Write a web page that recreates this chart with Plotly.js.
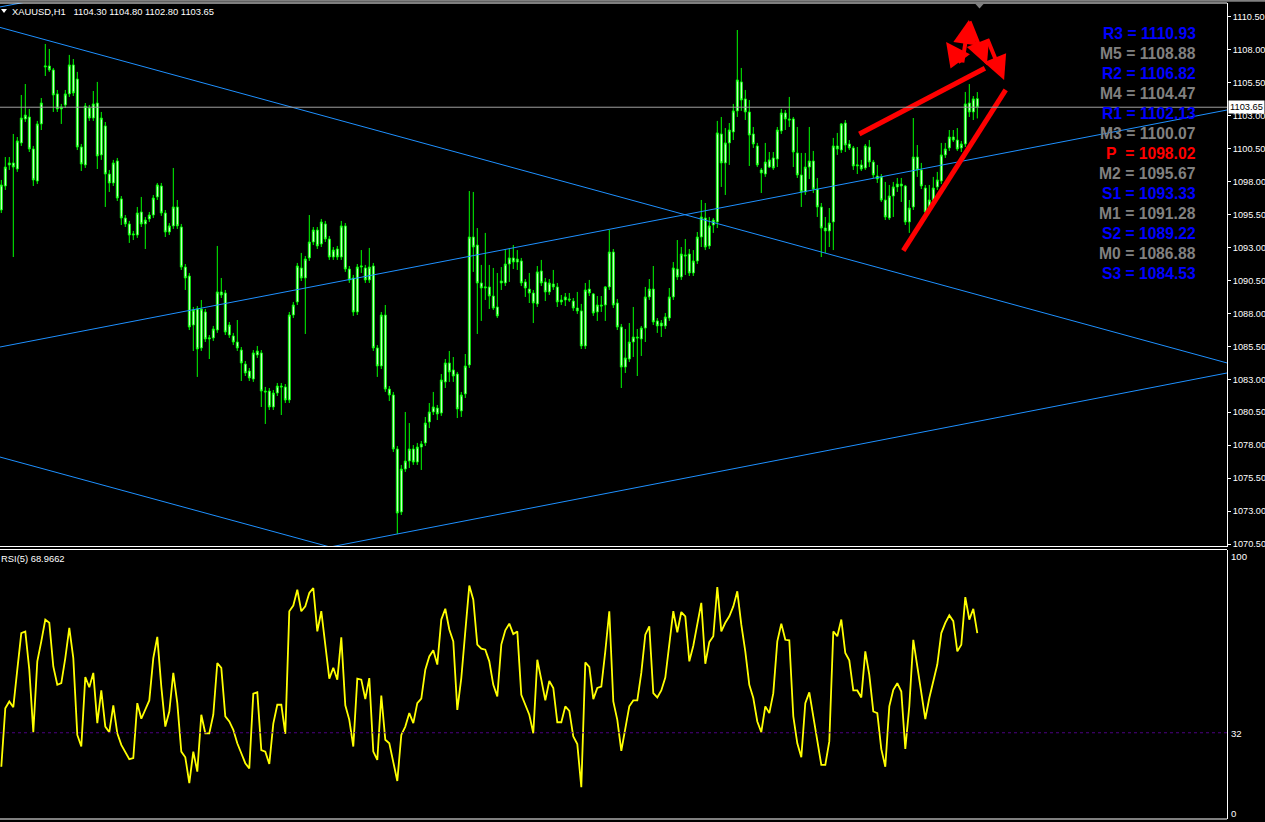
<!DOCTYPE html>
<html><head><meta charset="utf-8">
<script src="https://cdn.plot.ly/plotly-3.0.1.min.js"></script>
<style>html,body{margin:0;padding:0;background:#000;overflow:hidden}#chart{width:1265px;height:822px}</style>
</head><body><div id="chart"></div>
<script>
// ---------- DATA ----------
const symbolTitle = 'XAUUSD,H1';
const lastBar = {open:1104.30, high:1104.80, low:1102.80, close:1103.65};
const rsiTitle = 'RSI(5)';
const rsiLast = 68.9662;
const rsiLevel = 32;

const open = [
1095.85,1097.67,1099.27,1099.42,1098.96,1100.94,1102.76,1102.91,1100.48,1098.05,
1102.38,1106.70,1106.78,1106.48,1104.66,1103.52,1103.82,1104.66,1106.86,1105.79,
1100.63,1099.27,1103.59,1102.83,1103.97,1100.03,1102.23,1098.58,1097.90,1099.57,
1096.69,1095.24,1094.79,1093.95,1093.95,1095.70,1094.79,1095.17,1095.47,1096.84,
1097.67,1095.62,1094.18,1094.64,1096.08,1094.56,1091.52,1090.84,1087.12,1088.34,
1085.38,1088.11,1086.06,1086.14,1086.74,1089.63,1089.55,1086.36,1086.29,1085.83,
1085.22,1084.16,1083.63,1083.02,1084.85,1085.00,1082.11,1082.11,1080.90,1081.96,
1082.49,1082.42,1081.43,1087.88,1088.87,1091.45,1090.69,1092.21,1093.42,1094.33,
1093.27,1094.79,1093.65,1092.28,1092.89,1092.28,1094.64,1091.37,1090.69,1088.11,
1091.52,1091.45,1090.54,1091.60,1085.38,1084.01,1087.88,1082.26,1081.81,1077.71,
1072.93,1076.19,1076.80,1077.71,1076.72,1077.86,1078.17,1079.76,1080.52,1080.82,
1080.44,1082.80,1084.24,1083.71,1083.40,1080.60,1081.89,1084.09,1093.80,1093.19,
1090.31,1089.93,1090.01,1089.32,1088.49,1090.31,1090.31,1091.75,1092.21,1091.90,
1091.98,1090.39,1089.85,1089.55,1088.72,1091.22,1090.39,1089.63,1090.23,1090.01,
1088.87,1089.02,1089.10,1088.94,1088.41,1088.19,1085.53,1089.85,1089.48,1088.11,
1088.64,1088.64,1090.01,1092.66,1088.79,1086.97,1083.93,1084.54,1085.83,1086.21,
1086.06,1086.89,1089.25,1089.85,1087.43,1087.05,1087.05,1087.65,1089.25,1091.37,
1090.77,1092.44,1092.51,1091.07,1091.98,1093.80,1095.24,1093.12,1094.71,1094.94,
1101.62,1099.42,1100.94,1101.77,1103.37,1105.57,1104.28,1103.29,1101.62,1100.71,
1098.89,1098.58,1099.11,1099.80,1099.72,1101.85,1103.21,1102.76,1102.76,1100.18,
1098.51,1097.22,1099.11,1099.57,1097.44,1096.08,1094.48,1094.26,1094.94,1100.71,
1100.40,1102.45,1100.86,1100.56,1099.19,1099.27,1099.04,1100.63,1099.49,1098.43,
1098.36,1096.61,1095.24,1096.91,1097.60,1097.82,1097.67,1094.94,1096.08,1099.87,
1098.89,1097.52,1095.85,1096.61,1097.60,1098.05,1100.03,1100.56,1101.39,1101.16,
1100.56,1100.86,1103.97,1103.29,1104.30];

const high = [
1098.13,1099.87,1099.87,1101.62,1101.39,1104.58,1105.41,1103.52,1100.71,1102.61,
1104.35,1108.45,1108.07,1106.63,1104.96,1103.90,1104.96,1107.62,1107.31,1106.33,
1100.86,1103.97,1103.82,1104.88,1105.57,1103.29,1102.53,1098.89,1099.65,1099.80,
1096.91,1095.47,1095.02,1094.26,1096.08,1096.84,1095.32,1095.70,1096.99,1097.90,
1097.90,1095.85,1094.86,1099.04,1096.61,1094.79,1091.75,1091.07,1088.49,1088.56,
1089.02,1088.34,1086.36,1087.05,1093.12,1090.69,1089.78,1087.35,1086.52,1087.50,
1085.45,1084.39,1083.86,1085.22,1085.53,1085.22,1082.42,1082.34,1082.19,1082.72,
1082.72,1082.64,1088.11,1088.87,1091.83,1092.59,1092.36,1095.47,1094.56,1094.56,
1095.17,1095.02,1093.88,1093.04,1093.12,1095.02,1094.86,1091.60,1090.92,1091.75,
1092.81,1091.68,1092.97,1091.83,1085.60,1088.11,1088.64,1082.49,1082.04,1077.94,
1076.50,1080.52,1079.68,1078.01,1078.17,1078.32,1080.14,1081.20,1082.04,1081.05,
1083.40,1084.54,1085.15,1084.69,1083.56,1082.04,1084.92,1097.29,1097.22,1094.48,
1091.68,1094.11,1091.68,1091.45,1091.07,1091.52,1092.89,1092.97,1093.19,1092.81,
1092.21,1090.61,1091.07,1089.78,1091.60,1092.06,1090.69,1090.61,1091.30,1090.31,
1089.40,1089.55,1089.55,1089.17,1089.63,1088.72,1090.31,1090.54,1089.55,1089.32,
1089.32,1090.08,1094.33,1092.89,1089.10,1087.20,1086.82,1087.27,1088.49,1086.82,
1087.05,1090.01,1090.61,1091.60,1087.65,1087.50,1088.03,1089.93,1091.90,1093.57,
1093.04,1093.65,1092.89,1092.81,1094.18,1096.61,1096.38,1095.32,1095.24,1102.61,
1102.91,1102.07,1102.45,1103.90,1109.51,1106.63,1104.96,1104.20,1102.15,1100.94,
1099.04,1100.94,1100.25,1100.25,1102.15,1103.52,1103.44,1104.43,1102.91,1102.15,
1100.18,1100.18,1102.15,1100.33,1098.28,1096.38,1095.32,1096.00,1101.32,1101.70,
1102.45,1102.68,1101.16,1100.71,1100.63,1099.65,1100.86,1101.16,1099.65,1099.27,
1098.58,1097.98,1097.75,1097.98,1098.28,1098.28,1097.75,1096.61,1102.83,1100.78,
1099.42,1097.75,1097.75,1098.36,1098.74,1100.94,1100.94,1101.92,1101.92,1102.07,
1101.09,1104.81,1105.41,1104.50,1104.80];

const low = [
1095.62,1097.37,1098.89,1092.28,1098.74,1100.71,1102.53,1100.25,1097.67,1097.82,
1101.92,1106.02,1106.33,1103.29,1103.29,1102.38,1103.59,1104.43,1104.50,1100.40,
1098.81,1099.04,1102.61,1102.61,1098.96,1099.65,1096.08,1097.22,1097.67,1096.53,
1094.71,1094.56,1093.35,1093.57,1093.73,1094.56,1092.89,1094.94,1095.24,1096.61,
1095.40,1093.80,1093.95,1094.41,1094.41,1091.30,1089.78,1086.74,1085.15,1083.18,
1085.15,1085.83,1084.54,1085.91,1086.52,1089.17,1086.36,1086.14,1085.60,1085.15,
1082.87,1083.25,1082.87,1082.80,1084.62,1080.90,1079.61,1080.67,1080.67,1081.73,
1080.29,1081.20,1081.20,1087.65,1088.64,1090.46,1086.44,1091.98,1093.19,1092.89,
1093.04,1093.42,1092.06,1092.06,1092.06,1092.06,1091.15,1090.31,1087.81,1087.88,
1091.07,1090.31,1090.31,1085.15,1083.18,1083.78,1082.04,1081.35,1077.48,1071.26,
1072.70,1075.97,1076.27,1076.50,1076.50,1076.12,1077.94,1079.30,1080.29,1079.91,
1080.22,1082.34,1082.80,1082.80,1080.06,1080.14,1081.58,1083.86,1091.15,1086.44,
1087.43,1089.02,1088.34,1088.26,1087.65,1089.78,1090.08,1090.39,1091.37,1091.30,
1090.08,1089.25,1088.79,1087.27,1088.49,1090.08,1088.94,1089.40,1089.78,1088.49,
1088.64,1088.56,1088.87,1088.19,1087.96,1085.30,1085.30,1089.32,1087.81,1087.43,
1088.11,1087.43,1089.78,1088.41,1086.74,1082.34,1083.48,1084.31,1084.69,1083.25,
1084.77,1085.83,1089.02,1087.12,1086.52,1086.21,1086.82,1087.43,1089.02,1090.54,
1090.54,1090.92,1090.84,1090.84,1091.75,1093.04,1092.81,1092.89,1094.11,1094.48,
1097.60,1096.99,1099.27,1101.16,1102.91,1103.37,1102.68,1099.19,1100.56,1099.11,
1097.14,1098.36,1099.04,1098.89,1099.11,1101.62,1101.92,1102.15,1099.11,1098.28,
1096.08,1096.99,1098.20,1097.14,1095.32,1092.28,1092.59,1093.04,1092.81,1100.03,
1100.18,1100.25,1100.40,1098.89,1098.58,1098.81,1098.89,1099.11,1098.28,1097.90,
1096.46,1095.09,1095.09,1095.32,1097.22,1096.46,1094.71,1094.11,1095.85,1098.36,
1097.44,1095.62,1095.62,1096.38,1097.37,1097.82,1099.80,1100.33,1101.01,1100.33,
1100.25,1100.63,1102.91,1102.68,1102.80];

const close = [
1097.75,1099.11,1099.42,1099.11,1101.09,1102.83,1103.06,1100.48,1098.13,1102.38,
1103.97,1106.78,1106.48,1104.58,1103.52,1103.67,1104.66,1106.86,1104.73,1100.63,
1099.34,1103.74,1102.83,1103.90,1099.95,1102.83,1098.58,1097.90,1099.42,1096.76,
1095.24,1094.79,1093.95,1094.03,1095.62,1094.79,1095.09,1095.47,1096.76,1097.75,
1095.62,1094.18,1094.64,1096.08,1094.64,1091.52,1090.69,1086.97,1088.26,1085.30,
1088.34,1086.06,1086.14,1086.82,1089.63,1089.40,1086.59,1087.12,1085.83,1085.38,
1084.24,1083.48,1083.10,1085.00,1085.15,1082.11,1082.04,1080.90,1081.96,1082.49,
1082.42,1081.43,1087.88,1088.64,1091.60,1090.69,1092.13,1093.42,1094.33,1093.12,
1094.94,1093.65,1092.28,1092.81,1092.28,1094.64,1091.37,1090.54,1088.11,1091.52,
1091.60,1090.54,1091.52,1085.38,1084.01,1087.88,1082.26,1081.81,1077.71,1072.85,
1076.19,1076.80,1077.71,1076.72,1077.86,1078.09,1079.68,1080.52,1080.90,1080.37,
1082.95,1084.24,1083.56,1083.25,1080.75,1081.81,1084.01,1093.80,1093.04,1090.31,
1089.93,1090.01,1089.32,1088.41,1087.81,1090.46,1091.75,1092.21,1091.90,1092.13,
1090.31,1089.93,1089.55,1088.79,1091.15,1090.31,1089.63,1090.31,1090.01,1088.87,
1089.02,1089.25,1089.02,1088.41,1088.19,1085.53,1089.78,1089.55,1088.03,1088.64,
1088.56,1090.01,1092.66,1088.64,1086.97,1083.93,1084.62,1085.83,1086.21,1086.14,
1086.89,1089.25,1089.85,1087.35,1087.05,1087.27,1087.73,1089.25,1091.45,1090.77,
1092.51,1092.36,1091.07,1091.98,1093.80,1095.32,1093.04,1094.64,1095.09,1101.70,
1099.42,1100.94,1101.92,1103.37,1105.72,1104.20,1103.29,1101.54,1100.86,1099.27,
1098.66,1099.49,1099.65,1099.04,1101.92,1103.21,1102.76,1102.68,1100.25,1098.51,
1097.22,1099.11,1099.57,1097.44,1096.08,1094.48,1094.26,1094.86,1100.71,1100.48,
1102.38,1100.78,1100.56,1099.19,1099.27,1098.96,1100.71,1099.49,1098.51,1098.20,
1096.61,1095.32,1096.91,1097.60,1097.82,1097.67,1094.94,1096.00,1099.87,1098.89,
1097.67,1095.70,1096.61,1097.52,1098.13,1100.03,1100.48,1101.39,1101.16,1100.48,
1100.86,1103.90,1103.29,1104.28,1103.65];

const rsi = [
19.4,41.1,43.6,41.5,55.4,69.0,69.6,55.4,32.2,58.5,
65.9,74.0,72.8,56.6,49.8,50.4,59.7,70.9,59.7,31.2,
26.9,52.7,48.9,54.2,35.6,47.7,34.3,32.2,42.2,31.8,
27.5,25.0,22.2,22.6,43.0,37.2,40.5,44.0,59.7,67.6,
49.1,34.3,39.9,54.2,43.0,25.0,22.9,13.3,25.0,17.6,
38.7,31.8,31.8,38.7,57.9,56.1,38.1,36.2,33.1,28.1,
24.4,20.7,18.8,46.5,47.0,25.6,25.0,20.4,35.4,42.4,
42.4,31.6,77.1,79.2,85.1,77.1,78.9,83.9,85.7,69.6,
77.1,64.3,52.1,56.1,51.7,67.4,42.2,36.8,26.9,52.1,
51.7,44.5,52.3,25.0,21.9,45.8,29.4,28.1,21.3,14.1,
31.2,34.3,39.3,35.6,43.0,44.7,55.4,60.3,62.6,57.3,
74.0,78.0,70.3,65.9,40.5,52.3,69.6,86.6,81.4,64.7,
63.2,62.8,58.5,49.8,45.5,64.7,70.0,72.5,68.6,69.6,
46.1,42.0,38.7,31.8,59.1,51.7,44.0,51.2,48.6,35.9,
35.9,41.8,40.1,30.6,27.8,11.8,58.1,56.4,44.5,48.6,
49.1,62.2,77.1,43.6,36.8,25.3,33.3,41.8,44.0,44.0,
54.2,68.4,71.5,46.7,45.1,47.7,52.5,65.6,77.1,69.3,
76.8,75.2,58.5,64.3,73.0,80.2,57.6,65.6,67.8,86.1,
69.6,72.8,75.2,78.9,84.5,72.1,62.2,49.8,44.9,36.2,
32.2,41.8,39.3,46.7,65.9,72.5,66.5,66.3,38.1,28.1,
22.9,43.0,47.0,38.1,30.0,20.1,20.1,28.8,69.6,67.8,
74.0,61.6,58.9,47.7,47.7,45.1,62.2,53.5,39.9,39.3,
25.9,19.4,41.8,47.9,50.4,47.3,26.0,41.8,66.5,56.6,
48.2,37.1,44.9,51.7,57.3,69.0,72.8,75.6,73.4,62.2,
64.7,82.3,74.0,78.0,68.9662];

// Pivot levels (text block)
const pivotNames  = ['R3','M5','R2','M4','R1','M3','P\u00a0','M2','S1','M1','S2','M0','S3'];
const pivotValues = [1110.93,1108.88,1106.82,1104.47,1102.13,1100.07,1098.02,1095.67,1093.33,1091.28,1089.22,1086.88,1084.53];
const pivotColors = ['#0000ff','#808080','#0000ff','#808080','#0000ff','#808080','#ff0000','#808080','#0000ff','#808080','#0000ff','#808080','#0000ff'];

// Trend lines: bar-index / price pairs
const descUpperX = [-0.33, 306.43], descUpperY = [1109.71, 1084.24];
const descLowerX = [-0.33, 82.2],   descLowerY = [1077.10, 1070.27];
const ascMidX    = [-0.33, 306.43], ascMidY    = [1085.45, 1103.44];
const ascLowerX  = [82.2, 306.43],  ascLowerY  = [1070.27, 1083.48];
const ascUpperX  = [-0.33, 9.7],    ascUpperY  = [1111.26, 1111.84];

// Hand-drawn red lines
const redUpperX = [214.5, 245.9], redUpperY = [1101.62, 1106.61];
const redLowerX = [225.5, 251.1], redLowerY = [1092.76, 1104.96];
// Hand-drawn red arrows: tail (x0,y0) -> head (x1,y1)
const arrowX0 = [240.2, 240.2, 241.9, 246.4];
const arrowY0 = [1106.93, 1106.93, 1110.27, 1108.91];
const arrowX1 = [236.2, 241.9, 246.4, 250.7];
const arrowY1 = [1108.60, 1110.27, 1106.86, 1105.72];

// Axis settings
const priceTick0 = 1070.5, priceDtick = 2.5;
const priceRange = [1070.31, 1111.56];
const rsiTicks = [100, 32, 0];

// ---------- LAYOUT HELPERS ----------
const W = 1265, H = 822, PW = 1227;
const px = x => x / PW;
const py = y => (H - y) / H;
const idx = open.map((_, i) => i);
const FONT = 'Liberation Sans, Arial, sans-serif';

const traces = [];
const blue = '#1e90ff';
[[descUpperX,descUpperY],[descLowerX,descLowerY],[ascMidX,ascMidY],[ascLowerX,ascLowerY],[ascUpperX,ascUpperY]].forEach(([xs,ys])=>{
  traces.push({type:'scatter', mode:'lines', x:xs, y:ys, line:{color:blue, width:1}, hoverinfo:'skip', xaxis:'x', yaxis:'y'});
});
traces.push({
  type:'candlestick', x:idx, open:open, high:high, low:low, close:close,
  increasing:{line:{color:'#00ff00', width:1}, fillcolor:'#ffffff'},
  decreasing:{line:{color:'#00ff00', width:1}, fillcolor:'#ffffff'},
  whiskerwidth:0, hoverinfo:'skip', xaxis:'x', yaxis:'y'
});
[[redUpperX,redUpperY],[redLowerX,redLowerY]].forEach(([xs,ys])=>{
  traces.push({type:'scatter', mode:'lines', x:xs, y:ys, line:{color:'#ff0000', width:5}, hoverinfo:'skip', xaxis:'x', yaxis:'y'});
});
traces.push({type:'scatter', mode:'lines', x:idx, y:rsi, line:{color:'#ffff00', width:1.8}, hoverinfo:'skip', xaxis:'x', yaxis:'y2'});

const shapes = [
  {type:'line', xref:'paper', yref:'paper', x0:0, x1:W/PW, y0:py(0.8), y1:py(0.8), line:{color:'#808080', width:2}},
  {type:'line', xref:'paper', yref:'paper', x0:0, x1:1, y0:py(3), y1:py(3), line:{color:'#ffffff', width:1}},
  {type:'line', xref:'paper', yref:'paper', x0:0, x1:1, y0:py(546.5), y1:py(546.5), line:{color:'#ffffff', width:1}},
  {type:'line', xref:'paper', yref:'paper', x0:0, x1:1, y0:py(549.5), y1:py(549.5), line:{color:'#ffffff', width:1}},
  {type:'line', xref:'paper', yref:'paper', x0:0, x1:1, y0:py(819), y1:py(819), line:{color:'#ffffff', width:1}},
  {type:'line', xref:'paper', yref:'y', x0:0, x1:1, y0:lastBar.close, y1:lastBar.close, line:{color:'#a0a0a0', width:1}},
  {type:'line', xref:'paper', yref:'y2', x0:0, x1:1, y0:rsiLevel, y1:rsiLevel, line:{color:'#4b0082', width:1, dash:'3px,3px'}},
  {type:'path', xref:'paper', yref:'paper', path:`M ${px(975)} ${py(3.5)} L ${px(984)} ${py(3.5)} L ${px(979.5)} ${py(8.5)} Z`, fillcolor:'#808080', line:{width:0}},
  {type:'path', xref:'paper', yref:'paper', path:`M ${px(1)} ${py(9)} L ${px(7)} ${py(9)} L ${px(4)} ${py(13)} Z`, fillcolor:'#ffffff', line:{width:0}}
];

const annotations = [];
annotations.push({xref:'paper', yref:'paper', x:px(10), y:py(11.5), xanchor:'left', yanchor:'middle', showarrow:false,
  text:`${symbolTitle}\u00a0\u00a0 ${lastBar.open.toFixed(2)} ${lastBar.high.toFixed(2)} ${lastBar.low.toFixed(2)} ${lastBar.close.toFixed(2)}`,
  font:{family:FONT, size:9.4, color:'#ffffff'}});
annotations.push({xref:'paper', yref:'paper', x:px(-1), y:py(558), xanchor:'left', yanchor:'middle', showarrow:false,
  text:`${rsiTitle} ${rsiLast}`, font:{family:FONT, size:9.4, color:'#ffffff'}});
pivotNames.forEach((n,i)=>{
  annotations.push({xref:'paper', yref:'paper', x:px(1198), y:py(33.3 + 20*i), xanchor:'right', yanchor:'middle', showarrow:false,
    text:`<b>${n} = ${pivotValues[i].toFixed(2)}</b>`, font:{family:FONT, size:15.7, color:pivotColors[i]}});
});
annotations.push({xref:'paper', yref:'y', x:1, xshift:1, y:lastBar.close, xanchor:'left', yanchor:'middle', showarrow:false,
  text:lastBar.close.toFixed(2), bgcolor:'#ffffff', borderpad:1, font:{family:FONT, size:9.3, color:'#000000'}});
const rsiLabelY = [556, 733, 813];
rsiTicks.forEach((t,i)=>{
  annotations.push({xref:'paper', yref:'paper', x:px(1229), y:py(rsiLabelY[i]), xanchor:'left', yanchor:'middle', showarrow:false,
    text:String(t), font:{family:FONT, size:9.6, color:'#ffffff'}});
});
arrowX0.forEach((_,i)=>{
  annotations.push({xref:'x', yref:'y', axref:'x', ayref:'y', x:arrowX1[i], y:arrowY1[i], ax:arrowX0[i], ay:arrowY0[i],
    text:'', showarrow:true, arrowhead:2, arrowsize:1.2, arrowwidth:4, arrowcolor:'#ff0000', standoff:0, startstandoff:0});
});

const layout = {
  width:W, height:H, paper_bgcolor:'#000000', plot_bgcolor:'#000000',
  margin:{l:0, r:W-PW, t:0, b:0, pad:0}, showlegend:false,
  font:{family:FONT, color:'#ffffff'},
  xaxis:{range:[-0.325, 306.425], showgrid:false, zeroline:false, showticklabels:false, ticks:'', showline:false,
         rangeslider:{visible:false}, fixedrange:true},
  yaxis:{domain:[py(546.5), py(3)], range:priceRange, side:'right', tickmode:'linear', tick0:priceTick0, dtick:priceDtick,
         tickformat:'.2f', ticks:'outside', ticklen:3, tickcolor:'#ffffff', tickwidth:1,
         tickfont:{family:FONT, size:9.2, color:'#ffffff'}, showgrid:false, zeroline:false,
         showline:true, linecolor:'#ffffff', linewidth:1, fixedrange:true},
  yaxis2:{domain:[py(819), py(549.5)], range:[0,100], anchor:'x', side:'right', showticklabels:false, ticks:'',
          showgrid:false, zeroline:false, showline:true, linecolor:'#ffffff', linewidth:1, fixedrange:true},
  shapes:shapes, annotations:annotations
};

Plotly.newPlot('chart', traces, layout, {staticPlot:true, displayModeBar:false});
</script>
</body></html>
